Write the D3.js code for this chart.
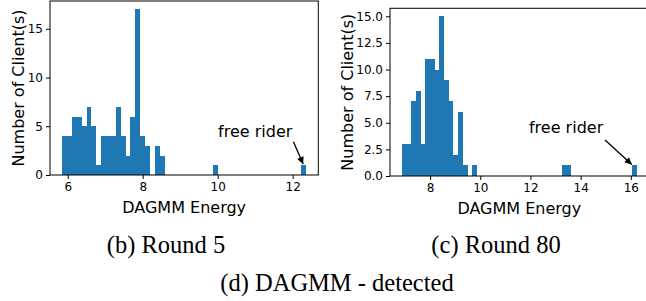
<!DOCTYPE html>
<html>
<head>
<meta charset="utf-8">
<script src="https://cdn.jsdelivr.net/npm/d3@7"></script>
<style>
  body { margin: 0; background: #fff; }
  svg { display: block; }
  .tick text { font-family: "DejaVu Sans", sans-serif; font-size: 12px; fill: #000; }
  .tick line { stroke: #000; }
  .label { font-family: "DejaVu Sans", sans-serif; font-size: 16px; fill: #000; }
  .caption { font-family: "Liberation Serif", "Times New Roman", serif; font-size: 24.5px; fill: #000; }
</style>
</head>
<body>
<svg id="chart" width="646" height="301"></svg>
<script>
// histogram counts, 50 equal bins over each range
const round5Range = [5.853, 12.358];
const round5Counts = [4, 4, 6, 6, 5, 7, 5, 1, 4, 4, 4, 7, 4, 2, 6, 17, 4, 3, 0, 3, 2,
  0, 0, 0, 0, 0, 0, 0, 0, 0, 0,
  1,
  0, 0, 0, 0, 0, 0, 0, 0, 0, 0, 0, 0, 0, 0, 0, 0, 0,
  1];
const round80Range = [6.87, 16.24];
const round80Counts = [3, 3, 7, 8, 3, 11, 11, 10, 15, 9, 7, 2, 6, 1, 0, 1,
  0, 0, 0, 0, 0, 0, 0, 0, 0, 0, 0, 0, 0, 0, 0, 0, 0, 0,
  1, 1,
  0, 0, 0, 0, 0, 0, 0, 0, 0, 0, 0, 0, 0,
  1];

const round5XTicks = [6, 8, 10, 12];
const round5YTicks = [0, 5, 10, 15];
const round80XTicks = [8, 10, 12, 14, 16];
const round80YTicks = [0, 2.5, 5, 7.5, 10, 12.5, 15];

// annotation: text anchor and arrow start/tip, in data units
const round5Note = { text: [11.0, 3.9], from: [12.02, 3.4], to: [12.28, 1.12] };
const round80Note = { text: [13.42, 4.04], from: [14.97, 3.38], to: [16.04, 1.08] };

const BAR_COLOR = '#1f77b4';
const TICK_SIZE = 4;

const svg = d3.select('#chart');

const defs = svg.append('defs');
defs.append('marker')
  .attr('id', 'arrowhead')
  .attr('viewBox', '0 0 10 10')
  .attr('refX', 10).attr('refY', 5)
  .attr('markerUnits', 'userSpaceOnUse')
  .attr('markerWidth', 8).attr('markerHeight', 7)
  .attr('orient', 'auto')
  .append('path')
  .attr('d', 'M0,0 L10,5 L0,10 Z')
  .attr('fill', '#000');

function drawPanel(opts) {
  const { box, range, counts, xTicks, yTicks, yFormat, note } = opts;
  const nBins = counts.length;
  const binW = (range[1] - range[0]) / nBins;
  const span = range[1] - range[0];

  const x = d3.scaleLinear()
    .domain([range[0] - 0.05 * span, range[1] + 0.05 * span])
    .range([box.x0, box.x1]);
  const y = d3.scaleLinear()
    .domain([0, d3.max(counts) * 1.05])
    .range([box.y1, box.y0]);

  const g = svg.append('g');

  // bars
  g.selectAll('rect.bar')
    .data(counts.map((c, i) => ({ x0: range[0] + i * binW, x1: range[0] + (i + 1) * binW, c })))
    .enter().append('rect')
    .attr('class', 'bar')
    .attr('x', d => x(d.x0))
    .attr('width', d => x(d.x1) - x(d.x0))
    .attr('y', d => y(d.c))
    .attr('height', d => y(0) - y(d.c))
    .attr('fill', BAR_COLOR)
    .attr('shape-rendering', 'crispEdges');

  // axes
  const xAxis = d3.axisBottom(x).tickValues(xTicks).tickFormat(d3.format('d'))
    .tickSizeInner(TICK_SIZE).tickSizeOuter(0).tickPadding(3);
  const yAxis = d3.axisLeft(y).tickValues(yTicks).tickFormat(d3.format(yFormat))
    .tickSizeInner(TICK_SIZE).tickSizeOuter(0).tickPadding(3);

  const gx = g.append('g').attr('transform', `translate(0,${box.y1})`).call(xAxis);
  const gy = g.append('g').attr('transform', `translate(${box.x0},0)`).call(yAxis);
  gx.select('.domain').remove();
  gy.select('.domain').remove();

  // frame (spines)
  g.append('rect')
    .attr('x', box.x0).attr('y', box.y0)
    .attr('width', box.x1 - box.x0).attr('height', box.y1 - box.y0)
    .attr('fill', 'none').attr('stroke', '#000').attr('stroke-width', 1);

  // axis labels
  g.append('text').attr('class', 'label')
    .attr('x', (box.x0 + box.x1) / 2).attr('y', box.y1 + 38)
    .attr('text-anchor', 'middle')
    .text('DAGMM Energy');
  g.append('text').attr('class', 'label')
    .attr('transform', `translate(${box.labelX},${(box.y0 + box.y1) / 2}) rotate(-90)`)
    .attr('text-anchor', 'middle')
    .text('Number of Client(s)');

  // annotation
  g.append('text').attr('class', 'label')
    .attr('x', x(note.text[0])).attr('y', y(note.text[1]))
    .attr('text-anchor', 'middle')
    .text('free rider');
  g.append('line')
    .attr('x1', x(note.from[0])).attr('y1', y(note.from[1]))
    .attr('x2', x(note.to[0])).attr('y2', y(note.to[1]))
    .attr('stroke', '#000').attr('stroke-width', 1.3)
    .attr('marker-end', 'url(#arrowhead)');

  // caption
  g.append('text').attr('class', 'caption')
    .attr('x', box.captionX).attr('y', 253)
    .attr('text-anchor', 'middle')
    .text(box.caption);
}

drawPanel({
  box: { x0: 50, x1: 318.3, y0: 1, y1: 175, labelX: 24, captionX: 166, caption: '(b) Round 5' },
  range: round5Range, counts: round5Counts,
  xTicks: round5XTicks, yTicks: round5YTicks, yFormat: 'd',
  note: round5Note
});

drawPanel({
  box: { x0: 390, x1: 648.6, y0: 8.3, y1: 176, labelX: 353, captionX: 496, caption: '(c) Round 80' },
  range: round80Range, counts: round80Counts,
  xTicks: round80XTicks, yTicks: round80YTicks, yFormat: '.1f',
  note: round80Note
});

svg.append('text').attr('class', 'caption')
  .attr('x', 337).attr('y', 291)
  .attr('text-anchor', 'middle')
  .text('(d) DAGMM - detected');
</script>
</body>
</html>
